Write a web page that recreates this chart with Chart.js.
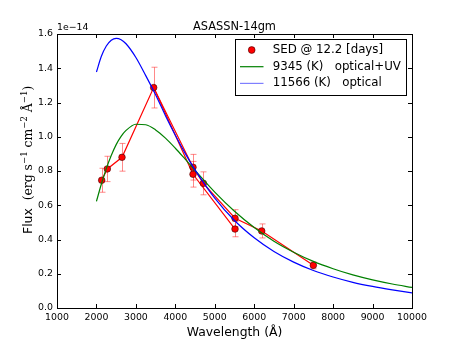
<!DOCTYPE html>
<html>
<head>
<meta charset="utf-8">
<script src="https://cdn.jsdelivr.net/npm/chart.js"></script>
<style>
  html, body { margin: 0; padding: 0; background: #fff; }
  #wrap { width: 458px; height: 343px; }
</style>
</head>
<body>
<div id="wrap"><canvas id="sedChart" width="458" height="343"></canvas></div>
<script>
// SED points (wavelength in A, flux in 1e-14 erg/s/cm2/A)
const sedWave = [2133, 2276, 2648, 3451, 4448, 4448, 4710, 5513, 5513, 6190, 7499];
const sedFlux = [0.746, 0.812, 0.880, 1.287, 0.822, 0.781, 0.728, 0.461, 0.524, 0.450, 0.249];
const sedErr  = [0.070, 0.074, 0.081, 0.119, 0.075, 0.075, 0.067, 0.045, 0.050, 0.041, 0.020];
// the red connecting lines (indices into the SED arrays)
const sedPathMain = [0, 1, 2, 3, 4, 6, 8, 9, 10];
const sedPathSide = [3, 5, 7];

// blackbody curves
const greenWave = [2000, 2125, 2250, 2375, 2500, 2625, 2750, 3000, 3250, 3500, 3750, 4000, 4250, 4500, 5000, 5500, 6000, 6500, 7000, 7500, 8000, 8500, 9000, 9500, 10000];
const greenFlux = [0.623, 0.724, 0.814, 0.890, 0.954, 1.002, 1.037, 1.073, 1.070, 1.040, 0.992, 0.933, 0.869, 0.804, 0.677, 0.565, 0.470, 0.390, 0.326, 0.272, 0.229, 0.193, 0.164, 0.140, 0.120];
const blueWave = [2000, 2125, 2250, 2375, 2500, 2625, 2750, 3000, 3250, 3500, 3750, 4000, 4250, 4500, 5000, 5500, 6000, 6500, 7000, 7500, 8000, 8500, 9000, 9500, 10000];
const blueFlux = [1.378, 1.470, 1.530, 1.564, 1.575, 1.567, 1.543, 1.463, 1.357, 1.245, 1.123, 1.009, 0.903, 0.807, 0.642, 0.511, 0.410, 0.330, 0.268, 0.219, 0.181, 0.150, 0.126, 0.106, 0.088];

const yTicks = [0.0, 0.2, 0.4, 0.6, 0.8, 1.0, 1.2, 1.4, 1.6];
const xTicks = [1000, 2000, 3000, 4000, 5000, 6000, 7000, 8000, 9000, 10000];

const legendRows = [
    { label: 'SED @ 12.2 [days]', kind: 'dot', color: '#ff0000' },
    { label: '9345 (K)   optical+UV', kind: 'line', color: '#008000' },
    { label: '11566 (K)   optical', kind: 'line', color: 'rgba(0,0,255,0.5)' }
];

const SANS = '"DejaVu Sans", sans-serif';
const SERIF = '"DejaVu Serif", "Liberation Serif", serif';

function toPoints(xs, ys) {
    return xs.map((x, i) => ({ x: x, y: ys[i] }));
}
function pathPoints(idx) {
    return idx.map(i => ({ x: sedWave[i], y: sedFlux[i] }));
}

// error bars, frame, inward ticks, title, legend and axis titles
const decorPlugin = {
    id: 'decor',
    beforeDatasetsDraw(chart) {
        const ctx = chart.ctx;
        const xs = chart.scales.x, ys = chart.scales.y;
        ctx.save();
        ctx.strokeStyle = 'rgba(255,40,40,0.55)';
        ctx.lineWidth = 1;
        sedWave.forEach((w, i) => {
            const px = Math.round(xs.getPixelForValue(w)) + 0.5;
            const top = ys.getPixelForValue(sedFlux[i] + sedErr[i]);
            const bot = ys.getPixelForValue(sedFlux[i] - sedErr[i]);
            ctx.beginPath();
            ctx.moveTo(px, top); ctx.lineTo(px, bot);
            ctx.moveTo(px - 3, top); ctx.lineTo(px + 3, top);
            ctx.moveTo(px - 3, bot); ctx.lineTo(px + 3, bot);
            ctx.stroke();
        });
        ctx.restore();
    },
    afterDraw(chart) {
        const ctx = chart.ctx;
        const a = chart.chartArea;
        const xs = chart.scales.x, ys = chart.scales.y;
        ctx.save();
        // frame
        ctx.strokeStyle = '#000';
        ctx.lineWidth = 1;
        ctx.strokeRect(Math.round(a.left) + 0.5, Math.round(a.top) + 0.5,
            Math.round(a.right - a.left), Math.round(a.bottom - a.top));
        // inward ticks on all four sides
        ctx.beginPath();
        yTicks.forEach(v => {
            const py = Math.round(ys.getPixelForValue(v)) + 0.5;
            ctx.moveTo(a.left, py); ctx.lineTo(a.left + 4, py);
            ctx.moveTo(a.right, py); ctx.lineTo(a.right - 4, py);
        });
        xTicks.forEach(v => {
            const px = Math.round(xs.getPixelForValue(v)) + 0.5;
            ctx.moveTo(px, a.bottom); ctx.lineTo(px, a.bottom - 4);
            ctx.moveTo(px, a.top); ctx.lineTo(px, a.top + 4);
        });
        ctx.stroke();

        // title and offset text
        ctx.fillStyle = '#000';
        ctx.font = '11.4px ' + SANS;
        ctx.textAlign = 'center';
        ctx.textBaseline = 'alphabetic';
        ctx.fillText('ASASSN-14gm', (a.left + a.right) / 2, 30);
        ctx.font = '9.4px ' + SANS;
        ctx.textAlign = 'left';
        ctx.fillText('1e\u221214', a.left, 30);

        // x axis title
        ctx.font = '12.4px ' + SANS;
        ctx.textAlign = 'center';
        ctx.fillText('Wavelength (\u00c5)', (a.left + a.right) / 2, 336);

        // y axis title: sans "Flux" plus serif units with superscripts
        const parts = [
            ['Flux', '12.4px ' + SANS, 0],
            ['  (', '12.4px ' + SERIF, 0],
            ['erg s', '12.4px ' + SERIF, 0],
            ['\u22121', '8.6px ' + SERIF, 5],
            [' cm', '12.4px ' + SERIF, 0],
            ['\u22122', '8.6px ' + SERIF, 5],
            [' \u00c5', '12.4px ' + SERIF, 0],
            ['\u22121', '8.6px ' + SERIF, 5],
            [')', '12.4px ' + SERIF, 0]
        ];
        ctx.translate(32, 234);
        ctx.rotate(-Math.PI / 2);
        ctx.textAlign = 'left';
        let cx = 0;
        parts.forEach(p => {
            ctx.font = p[1];
            ctx.fillText(p[0], cx, -p[2]);
            cx += ctx.measureText(p[0]).width;
        });
        ctx.setTransform(1, 0, 0, 1, 0, 0);

        // legend box
        const lx = 235, ly = 39, lw = 171, lh = 56;
        ctx.fillStyle = '#fff';
        ctx.fillRect(lx, ly, lw, lh);
        ctx.strokeStyle = '#000';
        ctx.lineWidth = 1;
        ctx.strokeRect(lx + 0.5, ly + 0.5, lw, lh);
        ctx.font = '11.8px ' + SANS;
        ctx.textBaseline = 'middle';
        legendRows.forEach((row, i) => {
            const cy = 50 + i * 16.7;
            if (row.kind === 'dot') {
                ctx.beginPath();
                ctx.arc(251.7, cy, 3.4, 0, Math.PI * 2);
                ctx.fillStyle = row.color;
                ctx.fill();
                ctx.strokeStyle = '#400000';
                ctx.lineWidth = 0.6;
                ctx.stroke();
            } else {
                ctx.beginPath();
                ctx.moveTo(240, cy); ctx.lineTo(263.5, cy);
                ctx.strokeStyle = row.color;
                ctx.lineWidth = 1.2;
                ctx.stroke();
            }
            ctx.fillStyle = '#000';
            ctx.fillText(row.label, 272.7, cy);
        });
        ctx.restore();
    }
};

const redLine = {
    borderColor: '#ff0000',
    borderWidth: 1.2,
    pointRadius: 0,
    showLine: true,
    fill: false
};

new Chart(document.getElementById('sedChart').getContext('2d'), {
    type: 'scatter',
    data: {
        datasets: [
            Object.assign({ label: 'sed-line', data: pathPoints(sedPathMain), order: 5 }, redLine),
            Object.assign({ label: 'sed-line2', data: pathPoints(sedPathSide), order: 5 }, redLine),
            {
                label: 'SED @ 12.2 [days]',
                data: toPoints(sedWave, sedFlux),
                showLine: false,
                pointRadius: 3.3,
                pointBackgroundColor: '#ff0000',
                pointBorderColor: '#3a0000',
                pointBorderWidth: 0.6,
                order: 4
            },
            {
                label: '9345 (K)   optical+UV',
                data: toPoints(greenWave, greenFlux),
                showLine: true,
                borderColor: '#008000',
                borderWidth: 1.2,
                pointRadius: 0,
                cubicInterpolationMode: 'monotone',
                order: 2
            },
            {
                label: '11566 (K)   optical',
                data: toPoints(blueWave, blueFlux),
                showLine: true,
                borderColor: '#0000ff',
                borderWidth: 1.2,
                pointRadius: 0,
                cubicInterpolationMode: 'monotone',
                order: 1
            }
        ]
    },
    options: {
        responsive: false,
        animation: false,
        events: [],
        layout: { padding: { top: 34, right: 46, left: 0, bottom: 0 } },
        plugins: {
            legend: { display: false },
            tooltip: { enabled: false },
            title: { display: false }
        },
        scales: {
            x: {
                type: 'linear',
                min: 1000,
                max: 10000,
                afterFit: s => { s.height = 35; },
                afterBuildTicks: s => { s.ticks = xTicks.map(v => ({ value: v })); },
                grid: { display: false, drawTicks: false },
                border: { display: false },
                ticks: {
                    color: '#000',
                    padding: 4,
                    maxRotation: 0,
                    font: { family: SANS, size: 9.4 },
                    callback: v => String(v)
                }
            },
            y: {
                type: 'linear',
                min: 0,
                max: 1.6,
                afterFit: s => { s.width = 57; },
                afterBuildTicks: s => { s.ticks = yTicks.map(v => ({ value: v })); },
                grid: { display: false, drawTicks: false },
                border: { display: false },
                ticks: {
                    color: '#000',
                    padding: 4,
                    font: { family: SANS, size: 9.4 },
                    callback: v => Number(v).toFixed(1)
                }
            }
        }
    },
    plugins: [decorPlugin]
});
</script>
</body>
</html>
